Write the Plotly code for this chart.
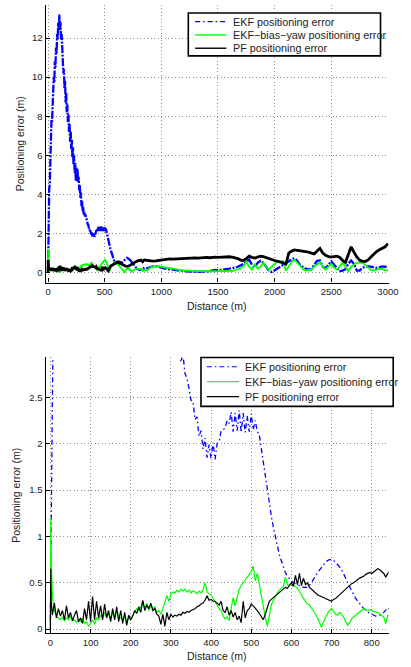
import plotly.graph_objects as go

# ---------------- data ----------------
# dense section 0..840 m
dist_near = [0, 1, 2, 3] + list(range(5, 845, 5))

ekf_near = [0.1, 0.8, 1.3, 1.8,
    2.5, 4.3, 4.5, 6.3, 6.3, 7.8, 7.7, 9.0, 8.8, 10.0,
    9.7, 10.8, 10.5, 11.5, 11.2, 12.2, 11.9, 12.8, 12.5, 13.2,
    12.4, 12.8, 11.9, 12.2, 11.1, 11.3, 10.2, 10.4, 9.4, 9.8,
    8.7, 9.2, 8.2, 8.6, 7.7, 8.1, 7.2, 7.6, 6.7, 7.2,
    6.3, 6.8, 5.9, 6.4, 5.5, 6.0, 5.1, 5.6, 4.7, 5.4,
    4.7, 5.3, 4.6, 4.9, 4.2, 4.5, 3.8, 4.1, 3.4, 3.7,
    3.15, 3.35, 2.95, 3.12, 2.88, 2.97, 2.76, 2.7, 2.6, 2.47,
    2.46, 2.26, 2.29, 2.08, 2.14, 1.94, 2.06, 1.85, 1.99, 1.84,
    2.01, 1.83, 2.0, 2.02, 2.14, 2.15, 2.17, 2.25, 2.22, 2.34,
    2.13, 2.33, 2.14, 2.36, 2.12, 2.33, 2.12, 2.3, 2.13, 2.32,
    2.15, 2.25, 2.13, 2.1, 1.95, 1.8, 1.62, 1.5, 1.35, 1.22,
    1.1, 0.98, 0.9, 0.8, 0.73, 0.66, 0.61, 0.57, 0.54, 0.52,
    0.5, 0.49, 0.48, 0.47, 0.46, 0.45, 0.45, 0.45, 0.47, 0.5,
    0.53, 0.57, 0.61, 0.64, 0.67, 0.7, 0.72, 0.74, 0.75, 0.75,
    0.74, 0.72, 0.7, 0.67, 0.64, 0.6, 0.55, 0.5, 0.45, 0.41,
    0.37, 0.33, 0.3, 0.28, 0.25, 0.22, 0.2, 0.18, 0.17, 0.16,
    0.15, 0.14, 0.14, 0.15, 0.16, 0.18, 0.2, 0.23]

bias_near = [0.0, 1.2, 0.9, 0.6,
    0.35, 0.2, 0.14, 0.12, 0.1, 0.13, 0.09, 0.12, 0.1, 0.14,
    0.09, 0.1, 0.07, 0.1, 0.08, 0.12, 0.06, 0.08, 0.03, 0.06,
    0.1, 0.05, 0.12, 0.1, 0.15, 0.12, 0.18, 0.13, 0.16, 0.12,
    0.17, 0.15, 0.18, 0.14, 0.12, 0.1, 0.13, 0.08, 0.12, 0.1,
    0.15, 0.18, 0.22, 0.2, 0.24, 0.3, 0.22, 0.28, 0.2, 0.26,
    0.22, 0.24, 0.18, 0.2, 0.16, 0.22, 0.28, 0.36, 0.3, 0.38,
    0.4, 0.39, 0.42, 0.4, 0.43, 0.41, 0.43, 0.4, 0.42, 0.39,
    0.41, 0.4, 0.38, 0.41, 0.39, 0.42, 0.5, 0.4, 0.38, 0.37,
    0.33, 0.3, 0.26, 0.22, 0.2, 0.14, 0.11, 0.13, 0.09, 0.22,
    0.34, 0.25, 0.36, 0.43, 0.47, 0.5, 0.53, 0.55, 0.58, 0.62,
    0.68, 0.52, 0.6, 0.48, 0.36, 0.22, 0.13, 0.03, 0.15, 0.26,
    0.31, 0.36, 0.39, 0.42, 0.44, 0.46, 0.56, 0.48, 0.47, 0.49,
    0.47, 0.46, 0.44, 0.41, 0.37, 0.33, 0.3, 0.27, 0.26, 0.23,
    0.2, 0.16, 0.12, 0.06, 0.02, 0.08, 0.13, 0.17, 0.2, 0.22,
    0.19, 0.16, 0.15, 0.18, 0.16, 0.13, 0.08, 0.04, 0.07, 0.11,
    0.13, 0.15, 0.17, 0.18, 0.2, 0.22, 0.21, 0.2, 0.21, 0.2,
    0.19, 0.18, 0.18, 0.16, 0.15, 0.13, 0.06, 0.15]

pf_near = [0.0, 0.65, 0.3, 0.25,
    0.15, 0.28, 0.12, 0.22, 0.14, 0.2, 0.1, 0.25, 0.12, 0.18,
    0.09, 0.15, 0.2, 0.08, 0.12, 0.06, 0.22, 0.1, 0.3, 0.08,
    0.35, 0.1, 0.3, 0.12, 0.25, 0.1, 0.27, 0.12, 0.2, 0.08,
    0.22, 0.1, 0.24, 0.08, 0.2, 0.06, 0.18, 0.04, 0.15, 0.1,
    0.14, 0.2, 0.17, 0.24, 0.18, 0.31, 0.2, 0.26, 0.22, 0.28,
    0.2, 0.22, 0.16, 0.14, 0.05, 0.16, 0.03, 0.18, 0.1, 0.16,
    0.13, 0.15, 0.14, 0.16, 0.15, 0.18, 0.17, 0.19, 0.18, 0.2,
    0.21, 0.22, 0.24, 0.25, 0.27, 0.28, 0.31, 0.36, 0.31, 0.32,
    0.3, 0.3, 0.28, 0.26, 0.3, 0.2, 0.18, 0.24, 0.15, 0.2,
    0.13, 0.18, 0.1, 0.14, 0.07, 0.3, 0.12, 0.2, 0.22, 0.27,
    0.25, 0.23, 0.2, 0.17, 0.14, 0.1, 0.16, 0.24, 0.3, 0.32,
    0.34, 0.36, 0.38, 0.39, 0.42, 0.43, 0.45, 0.44, 0.47, 0.5,
    0.46, 0.58, 0.48, 0.6, 0.47, 0.55, 0.48, 0.5, 0.45, 0.43,
    0.4, 0.39, 0.37, 0.36, 0.35, 0.34, 0.33, 0.32, 0.31, 0.3,
    0.32, 0.33, 0.35, 0.37, 0.4, 0.41, 0.43, 0.46, 0.47, 0.49,
    0.5, 0.52, 0.53, 0.55, 0.56, 0.57, 0.59, 0.6, 0.61, 0.6,
    0.62, 0.63, 0.65, 0.64, 0.62, 0.6, 0.56, 0.6]

# coarser section 850..3000 m
dist_far = list(range(850, 3001, 25))

ekf_far = [0.18, 0.22, 0.3, 0.32, 0.32, 0.3, 0.26, 0.22, 0.18, 0.16,
    0.15, 0.14, 0.12, 0.1, 0.08, 0.06, 0.05, 0.04, 0.04, 0.04,
    0.05, 0.04, 0.05, 0.08, 0.1, 0.14, 0.12, 0.15, 0.16, 0.18,
    0.2, 0.22, 0.26, 0.3, 0.36, 0.44, 0.56, 0.66, 0.4, 0.27,
    0.5, 0.6, 0.5, 0.3, 0.1, 0.03, 0.12, 0.25, 0.32, 0.4,
    0.5, 0.6, 0.67, 0.74, 0.6, 0.38, 0.28, 0.2, 0.16, 0.18,
    0.4, 0.6, 0.62, 0.3, 0.22, 0.4, 0.58, 0.4, 0.25, 0.08,
    0.1, 0.18, 0.45, 0.62, 0.45, 0.1, 0.1, 0.25, 0.3, 0.32,
    0.3, 0.26, 0.24, 0.28, 0.32, 0.3, 0.27]

bias_far = [0.12, 0.1, 0.25, 0.3, 0.32, 0.33, 0.3, 0.28, 0.26, 0.24,
    0.2, 0.18, 0.15, 0.12, 0.1, 0.09, 0.1, 0.08, 0.1, 0.07,
    0.09, 0.06, 0.08, 0.07, 0.09, 0.07, 0.08, 0.1, 0.07, 0.09,
    0.1, 0.08, 0.12, 0.16, 0.22, 0.32, 0.55, 0.3, 0.15, 0.44,
    0.2, 0.3, 0.5, 0.3, 0.15, 0.3, 0.45, 0.58, 0.57, 0.58,
    0.1, 0.35, 0.55, 0.66, 0.5, 0.3, 0.18, 0.1, 0.12, 0.16,
    0.3, 0.42, 0.54, 0.3, 0.15, 0.32, 0.44, 0.25, 0.15, 0.32,
    0.5, 0.3, 0.07, 0.3, 0.42, 0.5, 0.52, 0.5, 0.38, 0.24,
    0.14, 0.1, 0.16, 0.2, 0.18, 0.15, 0.1]

pf_far = [0.65, 0.63, 0.6, 0.59, 0.6, 0.62, 0.64, 0.67, 0.68, 0.7,
    0.69, 0.7, 0.71, 0.72, 0.71, 0.72, 0.73, 0.74, 0.75, 0.74,
    0.76, 0.77, 0.78, 0.76, 0.78, 0.79, 0.78, 0.79, 0.8, 0.8,
    0.81, 0.79, 0.77, 0.72, 0.64, 0.62, 0.72, 0.84, 0.78, 0.74,
    0.8, 0.84, 0.82, 0.76, 0.7, 0.66, 0.62, 0.58, 0.55, 0.5,
    0.44, 1.0, 1.1, 1.16, 1.14, 1.12, 1.1, 1.08, 1.05, 1.0,
    0.96, 1.1, 1.24, 1.0, 0.88, 0.82, 0.8, 0.82, 0.84, 0.78,
    0.62, 0.52, 0.9, 1.32, 1.05, 0.8, 0.64, 0.58, 0.57, 0.65,
    0.8, 0.96, 1.08, 1.17, 1.24, 1.32, 1.48]

assert len(ekf_near) == len(dist_near) == len(bias_near) == len(pf_near)
assert len(ekf_far) == len(dist_far) == len(bias_far) == len(pf_far)

dist = dist_near + dist_far
ekf = ekf_near + ekf_far
bias = bias_near + bias_far
pf = pf_near + pf_far

names = ["EKF positioning error", "EKF\u2212bias\u2212yaw positioning error", "PF positioning error"]
x_ticks_top = [0, 500, 1000, 1500, 2000, 2500, 3000]
y_ticks_top = [0, 2, 4, 6, 8, 10, 12]
x_ticks_bot = [0, 100, 200, 300, 400, 500, 600, 700, 800]
y_ticks_bot = [0, 0.5, 1, 1.5, 2, 2.5]
y_ticktext_bot = ["0", "0.5", "1", "1.5", "2", "2.5"]

# ---------------- figure ----------------
W, H = 411, 667
FONT = "Liberation Sans, Arial, Helvetica, sans-serif"
TXT = "#222222"

colors = ["#0000ff", "#00ff00", "#000000"]
top_styles = [dict(width=2.3, dash="8px,1.5px,2px,1.5px"), dict(width=1.8, dash="solid"), dict(width=2.8, dash="solid")]
bot_styles = [dict(width=1.3, dash="5px,3px,1.5px,3px"), dict(width=1.2, dash="solid"), dict(width=1.2, dash="solid")]
series = [ekf, bias, pf]

fig = go.Figure()
for i in range(3):
    fig.add_trace(go.Scatter(x=dist, y=series[i], mode="lines", name=names[i],
                             line=dict(color=colors[i], **top_styles[i]),
                             xaxis="x", yaxis="y", showlegend=False))
for i in range(3):
    fig.add_trace(go.Scatter(x=dist, y=series[i], mode="lines", name=names[i],
                             line=dict(color=colors[i], **bot_styles[i]),
                             xaxis="x2", yaxis="y2", showlegend=False))

xdom = [46.7 / W, 398.3 / W]

def px_y(top, bottom):
    return [(H - bottom) / H, (H - top) / H]

def fx(px):
    return px / W

def fy(py):
    return (H - py) / H

axis_common = dict(
    showline=True, linecolor="#000000", linewidth=1.2, mirror=False,
    ticks="inside", ticklen=4, tickcolor="#000000", tickwidth=1,
    showgrid=True, gridcolor="#8a8a8a", griddash="1px,2.5px", gridwidth=1,
    zeroline=False, tickfont=dict(family=FONT, size=9.5, color=TXT),
)

fig.update_layout(
    width=W, height=H,
    margin=dict(l=0, r=0, t=0, b=0),
    paper_bgcolor="white", plot_bgcolor="white",
    font=dict(family=FONT, color=TXT),
    showlegend=False,
    xaxis=dict(domain=xdom, anchor="y", range=[-22, 3006], tickvals=x_ticks_top, **axis_common),
    yaxis=dict(domain=px_y(5, 283), anchor="x", range=[-0.51, 13.69], tickvals=y_ticks_top, **axis_common),
    xaxis2=dict(domain=xdom, anchor="y2", range=[-12, 842], tickvals=x_ticks_bot, **axis_common),
    yaxis2=dict(domain=px_y(358, 634), anchor="x2", range=[-0.043, 2.93], tickvals=y_ticks_bot,
                ticktext=y_ticktext_bot, **axis_common),
)

# legend boxes (drawn as shapes + text, matching the MATLAB legend geometry)
def add_legend(box, rows, sample_x, text_x, styles):
    x0, y0, x1, y1 = box
    fig.add_shape(type="rect", xref="paper", yref="paper",
                  x0=fx(x0), x1=fx(x1), y0=fy(y1), y1=fy(y0),
                  line=dict(color="#000000", width=1.6), fillcolor="white", layer="above")
    for i, ry in enumerate(rows):
        fig.add_shape(type="line", xref="paper", yref="paper",
                      x0=fx(sample_x[0]), x1=fx(sample_x[1]), y0=fy(ry), y1=fy(ry),
                      line=dict(color=colors[i], width=styles[i]["width"], dash=styles[i]["dash"]),
                      layer="above")
        fig.add_annotation(text=names[i], xref="paper", yref="paper", x=fx(text_x), y=fy(ry),
                           xanchor="left", yanchor="middle", showarrow=False,
                           font=dict(family=FONT, size=10.8, color=TXT))

add_legend((193, 13, 390, 56), [21.7, 35.0, 48.3], (200, 232), 236.5,
           [dict(width=1.2, dash="5px,3px,1.5px,3px"), dict(width=1.4, dash="solid"), dict(width=1.4, dash="solid")])
add_legend((206, 358, 403, 407), [367.3, 382.3, 397.3], (212, 245), 249,
           [dict(width=1.2, dash="5px,3px,1.5px,3px"), dict(width=1.2, dash="solid"), dict(width=1.2, dash="solid")])

title_font = dict(family=FONT, size=10.5, color=TXT)
fig.add_annotation(text="Positioning error (m)", x=fx(20), y=fy(144), xref="paper", yref="paper",
                   textangle=-90, showarrow=False, font=title_font, xanchor="center", yanchor="middle")
fig.add_annotation(text="Distance (m)", x=fx(222), y=fy(306), xref="paper", yref="paper",
                   showarrow=False, font=title_font, xanchor="center", yanchor="middle")
fig.add_annotation(text="Positioning error (m)", x=fx(17), y=fy(496), xref="paper", yref="paper",
                   textangle=-90, showarrow=False, font=title_font, xanchor="center", yanchor="middle")
fig.add_annotation(text="Distance (m)", x=fx(222), y=fy(657), xref="paper", yref="paper",
                   showarrow=False, font=title_font, xanchor="center", yanchor="middle")

fig.write_html("out.html", config={"displayModeBar": False},
               post_script="document.body.style.margin='0';document.body.style.overflow='hidden';")
